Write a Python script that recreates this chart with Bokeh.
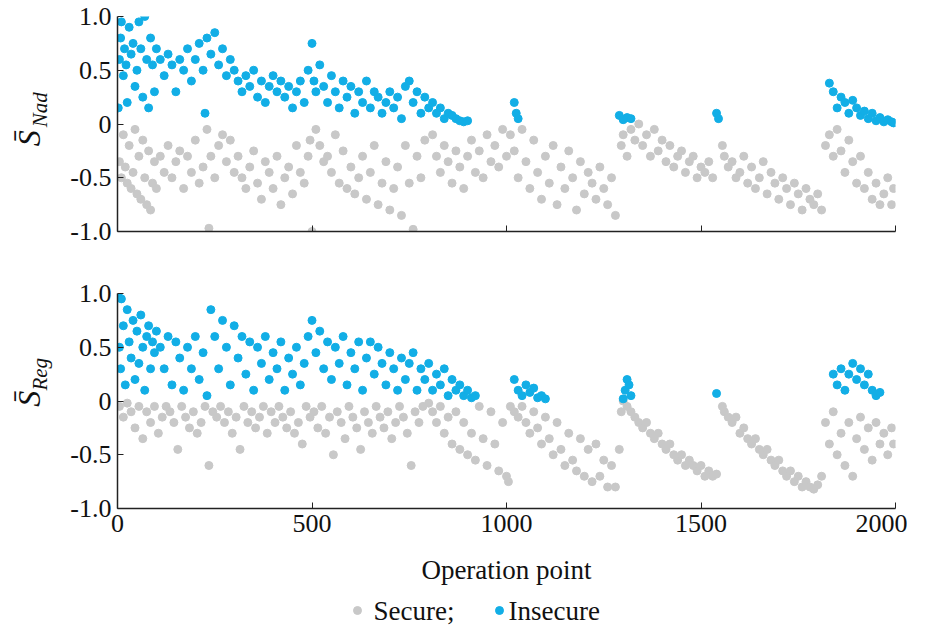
import math
from bokeh.plotting import figure
from bokeh.layouts import column, row
from bokeh.models import FixedTicker, Range1d
from bokeh.core.properties import value
from bokeh.embed import file_html
from bokeh.resources import INLINE

nad_secure = [(5,-0.35),(10,-0.5),(15,-0.1),(20,-0.4),(25,-0.55),(30,-0.2),(35,-0.6),(40,-0.45),(45,-0.05),(50,-0.65),(55,-0.3),(60,-0.7),(65,-0.15),(70,-0.5),(75,-0.75),(80,-0.25),(85,-0.8),(90,-0.55),(95,-0.35),(100,-0.6),
(110,-0.3),(120,-0.45),(130,-0.2),(140,-0.5),(150,-0.35),(160,-0.25),(170,-0.6),(180,-0.3),(190,-0.45),(200,-0.15),(210,-0.55),(220,-0.4),(230,-0.05),(235,-0.97),(240,-0.3),(250,-0.5),(260,-0.2),(270,-0.1),(280,-0.35),(290,-0.15),(300,-0.45),
(310,-0.3),(320,-0.5),(330,-0.6),(340,-0.4),(350,-0.25),(360,-0.55),(370,-0.7),(380,-0.35),(390,-0.45),(400,-0.6),(410,-0.3),(420,-0.75),(430,-0.5),(440,-0.4),(450,-0.65),(460,-0.2),(470,-0.45),(480,-0.55),(490,-0.3),(495,-0.15),(500,-1.0),
(510,-0.05),(520,-0.2),(530,-0.35),(540,-0.3),(550,-0.45),(560,-0.1),(570,-0.55),(580,-0.25),(590,-0.6),(600,-0.4),(610,-0.65),(620,-0.5),(630,-0.3),(640,-0.7),(650,-0.45),(660,-0.2),(670,-0.75),(680,-0.55),(690,-0.35),(700,-0.8),(710,-0.6),(720,-0.4),(730,-0.85),(740,-0.2),(750,-0.55),(760,-0.98),(770,-0.3),(780,-0.5),(790,-0.15),
(810,-0.1),(820,-0.3),(830,-0.45),(840,-0.2),(850,-0.35),(860,-0.55),(870,-0.25),(880,-0.4),(890,-0.6),(900,-0.3),(910,-0.15),(920,-0.45),(930,-0.25),(940,-0.5),(950,-0.1),(960,-0.35),(970,-0.2),(980,-0.4),(990,-0.05),(1000,-0.3),
(1010,-0.1),(1020,-0.25),(1030,-0.5),(1040,-0.05),(1050,-0.35),(1060,-0.6),(1070,-0.15),(1080,-0.45),(1090,-0.7),(1100,-0.3),(1110,-0.55),(1120,-0.2),(1130,-0.75),(1140,-0.4),(1150,-0.6),(1160,-0.25),(1170,-0.5),(1180,-0.8),(1190,-0.35),(1200,-0.65),(1210,-0.45),(1220,-0.55),(1230,-0.7),(1240,-0.4),(1250,-0.6),(1260,-0.75),(1270,-0.5),(1280,-0.85),
(1295,-0.2),(1300,-0.1),(1310,-0.3),(1320,-0.05),(1330,-0.15),(1340,0.0),(1350,-0.2),(1360,-0.1),(1370,-0.3),(1380,-0.05),(1390,-0.25),(1400,-0.15),(1410,-0.35),(1420,-0.2),(1430,-0.4),(1440,-0.3),(1450,-0.25),(1460,-0.45),(1470,-0.35),(1480,-0.3),(1490,-0.5),(1500,-0.4),(1510,-0.45),(1520,-0.35),(1530,-0.5),
(1555,-0.2),(1560,-0.3),(1570,-0.4),(1580,-0.35),(1590,-0.5),(1600,-0.45),(1610,-0.3),(1620,-0.55),(1630,-0.4),(1640,-0.6),(1650,-0.5),(1660,-0.35),(1670,-0.65),(1680,-0.45),(1690,-0.55),(1700,-0.7),(1710,-0.5),(1720,-0.6),(1730,-0.75),(1740,-0.55),(1750,-0.65),(1760,-0.8),(1770,-0.6),(1780,-0.7),(1790,-0.75),(1800,-0.65),(1810,-0.8),
(1820,-0.2),(1830,-0.1),(1840,-0.3),(1850,-0.05),(1860,-0.25),(1870,-0.45),(1880,-0.15),(1890,-0.35),(1900,-0.55),(1910,-0.3),(1920,-0.6),(1930,-0.45),(1940,-0.7),(1950,-0.55),(1960,-0.75),(1970,-0.65),(1980,-0.5),(1990,-0.75),(1995,-0.6)]

nad_insecure = [(2,0.15),(5,0.6),(8,0.8),(10,0.95),(15,0.45),(18,0.7),(22,0.55),(25,0.2),(30,0.9),(35,0.65),(40,0.75),(45,0.35),(50,0.5),(55,0.95),(60,0.7),(65,0.25),(70,1.0),(75,0.6),(80,0.15),(85,0.8),(90,0.55),(95,0.3),(100,0.7),
(110,0.6),(120,0.45),(130,0.65),(140,0.55),(150,0.3),(160,0.6),(170,0.5),(180,0.7),(190,0.4),(200,0.6),(210,0.75),(220,0.5),(225,0.1),(230,0.8),(240,0.65),(250,0.85),(260,0.55),(270,0.7),(280,0.45),(290,0.6),(300,0.5),
(310,0.4),(320,0.3),(330,0.45),(340,0.35),(350,0.5),(360,0.25),(370,0.4),(380,0.2),(390,0.35),(400,0.45),(410,0.3),(420,0.4),(430,0.25),(440,0.35),(450,0.15),(460,0.3),(470,0.4),(480,0.2),(490,0.5),(500,0.75),(505,0.4),
(510,0.3),(520,0.55),(530,0.35),(540,0.2),(550,0.45),(560,0.3),(570,0.15),(580,0.4),(590,0.25),(600,0.35),(610,0.1),(620,0.3),(630,0.2),(640,0.4),(650,0.15),(660,0.3),(670,0.25),(680,0.1),(690,0.2),(700,0.3),(710,0.15),(720,0.25),(730,0.05),(740,0.35),(750,0.4),(760,0.2),(770,0.3),(780,0.1),
(790,0.25),(800,0.15),(810,0.2),(820,0.1),(830,0.15),(840,0.05),(850,0.1),(860,0.08),(870,0.05),(880,0.03),(890,0.02),(900,0.03),
(1020,0.2),(1025,0.1),(1030,0.05),(1290,0.08),(1300,0.04),(1310,0.06),(1320,0.05),(1540,0.1),(1545,0.05),
(1830,0.38),(1840,0.3),(1850,0.15),(1860,0.25),(1870,0.2),(1880,0.1),(1890,0.22),(1900,0.15),(1910,0.08),(1920,0.12),(1930,0.05),(1940,0.1),(1950,0.03),(1960,0.06),(1970,0.02),(1980,0.04),(1990,0.02),(1995,0.01)]

reg_secure = [(5,-0.05),(15,-0.15),(25,-0.02),(35,-0.1),(45,-0.25),(55,-0.05),(65,-0.35),(75,-0.1),(85,-0.2),(95,-0.05),(105,-0.3),(115,-0.15),(125,-0.05),(135,-0.1),(145,-0.2),(155,-0.45),(165,-0.05),(175,-0.15),(185,-0.25),(195,-0.1),(205,-0.3),(215,-0.2),(225,-0.05),(235,-0.6),(245,-0.1),(255,-0.15),(265,-0.05),(275,-0.2),(285,-0.1),(295,-0.3),(305,-0.15),(315,-0.45),(325,-0.05),(335,-0.2),(345,-0.1),(355,-0.25),(365,-0.15),(375,-0.05),(385,-0.3),(395,-0.1),(405,-0.2),(415,-0.05),(425,-0.15),(435,-0.25),(445,-0.1),(455,-0.3),(465,-0.2),(475,-0.4),(485,-0.05),(495,-0.15),(505,-0.1),(515,-0.25),(525,-0.05),(535,-0.3),(545,-0.15),(555,-0.5),(565,-0.1),(575,-0.2),(585,-0.35),(595,-0.05),(605,-0.15),(615,-0.25),(625,-0.45),(635,-0.1),(645,-0.2),(655,-0.3),(665,-0.05),(675,-0.15),(685,-0.25),(695,-0.1),(705,-0.35),(715,-0.2),(725,-0.05),(735,-0.15),(745,-0.3),(755,-0.6),(765,-0.1),(775,-0.2),(785,-0.05),
(800,-0.02),(810,-0.1),(820,-0.2),(830,-0.05),(840,-0.3),(850,-0.15),(860,-0.4),(870,-0.1),(880,-0.45),(890,-0.2),(900,-0.5),(910,-0.3),(920,-0.55),(930,-0.05),(940,-0.35),(950,-0.6),(960,-0.1),(970,-0.4),(980,-0.65),(990,-0.2),(1000,-0.7),(1005,-0.75),
(1010,-0.05),(1020,-0.1),(1030,-0.15),(1040,-0.05),(1050,-0.2),(1060,-0.3),(1070,-0.1),(1080,-0.25),(1090,-0.4),(1100,-0.15),(1110,-0.35),(1120,-0.5),(1130,-0.2),(1140,-0.45),(1150,-0.6),(1160,-0.3),(1170,-0.55),(1180,-0.65),(1190,-0.35),(1200,-0.7),(1210,-0.45),(1220,-0.75),(1230,-0.4),(1240,-0.7),(1250,-0.55),(1260,-0.8),(1270,-0.6),(1280,-0.8),(1290,-0.45),
(1295,-0.1),(1300,0.0),(1310,-0.05),(1320,-0.1),(1330,-0.15),(1340,-0.2),(1350,-0.25),(1360,-0.2),(1370,-0.3),(1380,-0.35),(1390,-0.3),(1400,-0.4),(1410,-0.45),(1420,-0.4),(1430,-0.5),(1440,-0.55),(1450,-0.5),(1460,-0.6),(1470,-0.55),(1480,-0.6),(1490,-0.65),(1500,-0.6),(1510,-0.7),(1520,-0.65),(1530,-0.7),(1540,-0.68),
(1555,-0.05),(1560,-0.1),(1570,-0.15),(1580,-0.2),(1590,-0.15),(1600,-0.3),(1610,-0.25),(1620,-0.35),(1630,-0.4),(1640,-0.35),(1650,-0.45),(1660,-0.5),(1670,-0.45),(1680,-0.55),(1690,-0.6),(1700,-0.55),(1710,-0.65),(1720,-0.7),(1730,-0.65),(1740,-0.75),(1750,-0.7),(1760,-0.8),(1770,-0.75),(1780,-0.8),(1790,-0.82),(1800,-0.78),(1810,-0.7),
(1820,-0.2),(1830,-0.4),(1840,-0.1),(1850,-0.5),(1860,-0.3),(1870,-0.6),(1880,-0.2),(1890,-0.7),(1900,-0.35),(1910,-0.15),(1920,-0.45),(1930,-0.25),(1940,-0.55),(1950,-0.2),(1960,-0.4),(1970,-0.3),(1980,-0.5),(1990,-0.25),(1995,-0.4)]

reg_insecure = [(2,1.0),(5,0.5),(8,0.3),(10,0.95),(15,0.7),(20,0.15),(25,0.85),(30,0.55),(35,0.4),(40,0.75),(45,0.2),(50,0.65),(55,0.35),(60,0.8),(65,0.5),(70,0.1),(75,0.6),(80,0.7),(85,0.3),(90,0.55),(95,0.45),(100,0.65),
(110,0.5),(120,0.3),(130,0.6),(140,0.15),(150,0.55),(160,0.4),(170,0.1),(180,0.5),(190,0.3),(200,0.6),(210,0.2),(220,0.45),(230,0.05),(240,0.85),(250,0.6),(260,0.3),(270,0.75),(280,0.5),(290,0.15),(300,0.7),(310,0.4),(320,0.6),(330,0.25),(340,0.55),(350,0.1),(360,0.5),(370,0.35),(380,0.6),(390,0.2),(400,0.45),(410,0.3),(420,0.55),(430,0.1),(440,0.4),(450,0.25),(460,0.5),(470,0.15),(480,0.35),(490,0.6),(500,0.75),(510,0.45),(520,0.65),(530,0.3),(540,0.55),(550,0.2),(560,0.5),(570,0.35),(580,0.6),(590,0.15),(600,0.45),(610,0.3),(620,0.55),(630,0.1),(640,0.4),(650,0.55),(660,0.25),(670,0.5),(680,0.35),(690,0.15),(700,0.45),(710,0.3),(720,0.1),(730,0.4),(740,0.2),(750,0.35),(760,0.45),(770,0.1),(780,0.3),
(790,0.2),(800,0.35),(810,0.1),(820,0.25),(830,0.15),(840,0.3),(850,0.05),(860,0.2),(870,0.1),(880,0.15),(890,0.05),(900,0.1),(910,0.03),(920,0.05),
(1020,0.2),(1030,0.1),(1040,0.05),(1050,0.15),(1060,0.08),(1070,0.12),(1080,0.03),(1090,0.05),(1100,0.02),
(1300,0.02),(1305,0.1),(1310,0.2),(1315,0.15),(1320,0.05),(1540,0.07),
(1840,0.25),(1850,0.15),(1860,0.3),(1870,0.1),(1880,0.25),(1890,0.35),(1900,0.2),(1910,0.3),(1920,0.15),(1930,0.25),(1940,0.1),(1950,0.05),(1960,0.08)]

y_ticks = [-1.0, -0.5, 0, 0.5, 1.0]
y_tick_labels = {-1.0: "-1.0", -0.5: "-0.5", 0: "0", 0.5: "0.5", 1.0: "1.0"}
x_ticks = [0, 500, 1000, 1500, 2000]
legend_labels = ["Secure;", "Insecure"]

GREY = "#c8c8c8"
BLUE = "#12aee6"
FONT = "Liberation Serif"
GFONT = value("Liberation Serif")
LW = 59

def make(top, bottom, show_x):
    p = figure(frame_width=778, frame_height=215, output_backend="svg", toolbar_location=None,
               x_range=Range1d(0, 2000), y_range=Range1d(-1.0, 1.0),
               min_border_left=58, min_border_right=12, min_border_top=top, min_border_bottom=bottom)
    p.outline_line_color = None
    p.grid.visible = False
    for ax in (p.xaxis[0], p.yaxis[0]):
        ax.axis_line_color = "#222222"
        ax.axis_line_width = 1.5
        ax.major_tick_in = 6
        ax.major_tick_out = 0
        ax.minor_tick_line_color = None
        ax.major_tick_line_color = "#222222"
        ax.major_label_text_font = FONT
        ax.major_label_text_font_size = "26px"
        ax.major_label_text_color = "#111111"
        ax.major_label_standoff = 6
    p.yaxis.ticker = FixedTicker(ticks=y_ticks)
    p.yaxis.major_label_overrides = y_tick_labels
    p.xaxis.ticker = FixedTicker(ticks=x_ticks)
    if not show_x:
        p.xaxis.major_label_text_alpha = 0
        p.xaxis.major_label_text_font_size = "2px"
    return p

def blank(w, h):
    f = figure(width=w, height=h, output_backend="svg", toolbar_location=None,
               x_range=Range1d(0, w), y_range=Range1d(h, 0),
               min_border=0, x_axis_type=None, y_axis_type=None)
    f.outline_line_color = None
    f.grid.visible = False
    return f

def ylabel_fig(h, frame_top, sub):
    f = blank(LW, h)
    f.text(x=[46], y=[frame_top + 148], text=["S̄"], angle=math.pi/2, text_font=GFONT,
           text_font_style="italic", text_font_size="32px", text_align="left",
           text_baseline="bottom", text_color="#111111")
    f.text(x=[51], y=[frame_top + 124], text=[sub], angle=math.pi/2, text_font=GFONT,
           text_font_style="italic", text_font_size="21px", text_align="left",
           text_baseline="bottom", text_color="#111111")
    return f

H1, H2 = 272, 321
p1 = make(16, 41, False)
p1.scatter([a for a, b in nad_secure], [b for a, b in nad_secure], size=8, color=GREY)
p1.scatter([a for a, b in nad_insecure], [b for a, b in nad_insecure], size=8, color=BLUE)

p2 = make(21, 85, True)
p2.xaxis.axis_label = "Operation point"
p2.xaxis.axis_label_text_font = FONT
p2.xaxis.axis_label_text_font_size = "27px"
p2.xaxis.axis_label_text_font_style = "normal"
p2.xaxis.axis_label_text_color = "#111111"
p2.xaxis.axis_label_standoff = 20
p2.scatter([a for a, b in reg_secure], [b for a, b in reg_secure], size=8, color=GREY)
p2.scatter([a for a, b in reg_insecure], [b for a, b in reg_insecure], size=8, color=BLUE)

lg = blank(907, 32)
lg.scatter(x=[357, 499], y=[17, 17], size=8, color=[GREY, BLUE])
lg.text(x=[373, 508], y=[17, 17], text=legend_labels, text_font=GFONT, text_font_size="27px",
        text_baseline="middle", text_align="left", text_color="#111111")

lay = column(row(ylabel_fig(H1, 16, "Nad"), p1, spacing=0),
             row(ylabel_fig(H2, 21, "Reg"), p2, spacing=0),
             lg, spacing=0)
open("out.html", "w").write(file_html(lay, INLINE))
